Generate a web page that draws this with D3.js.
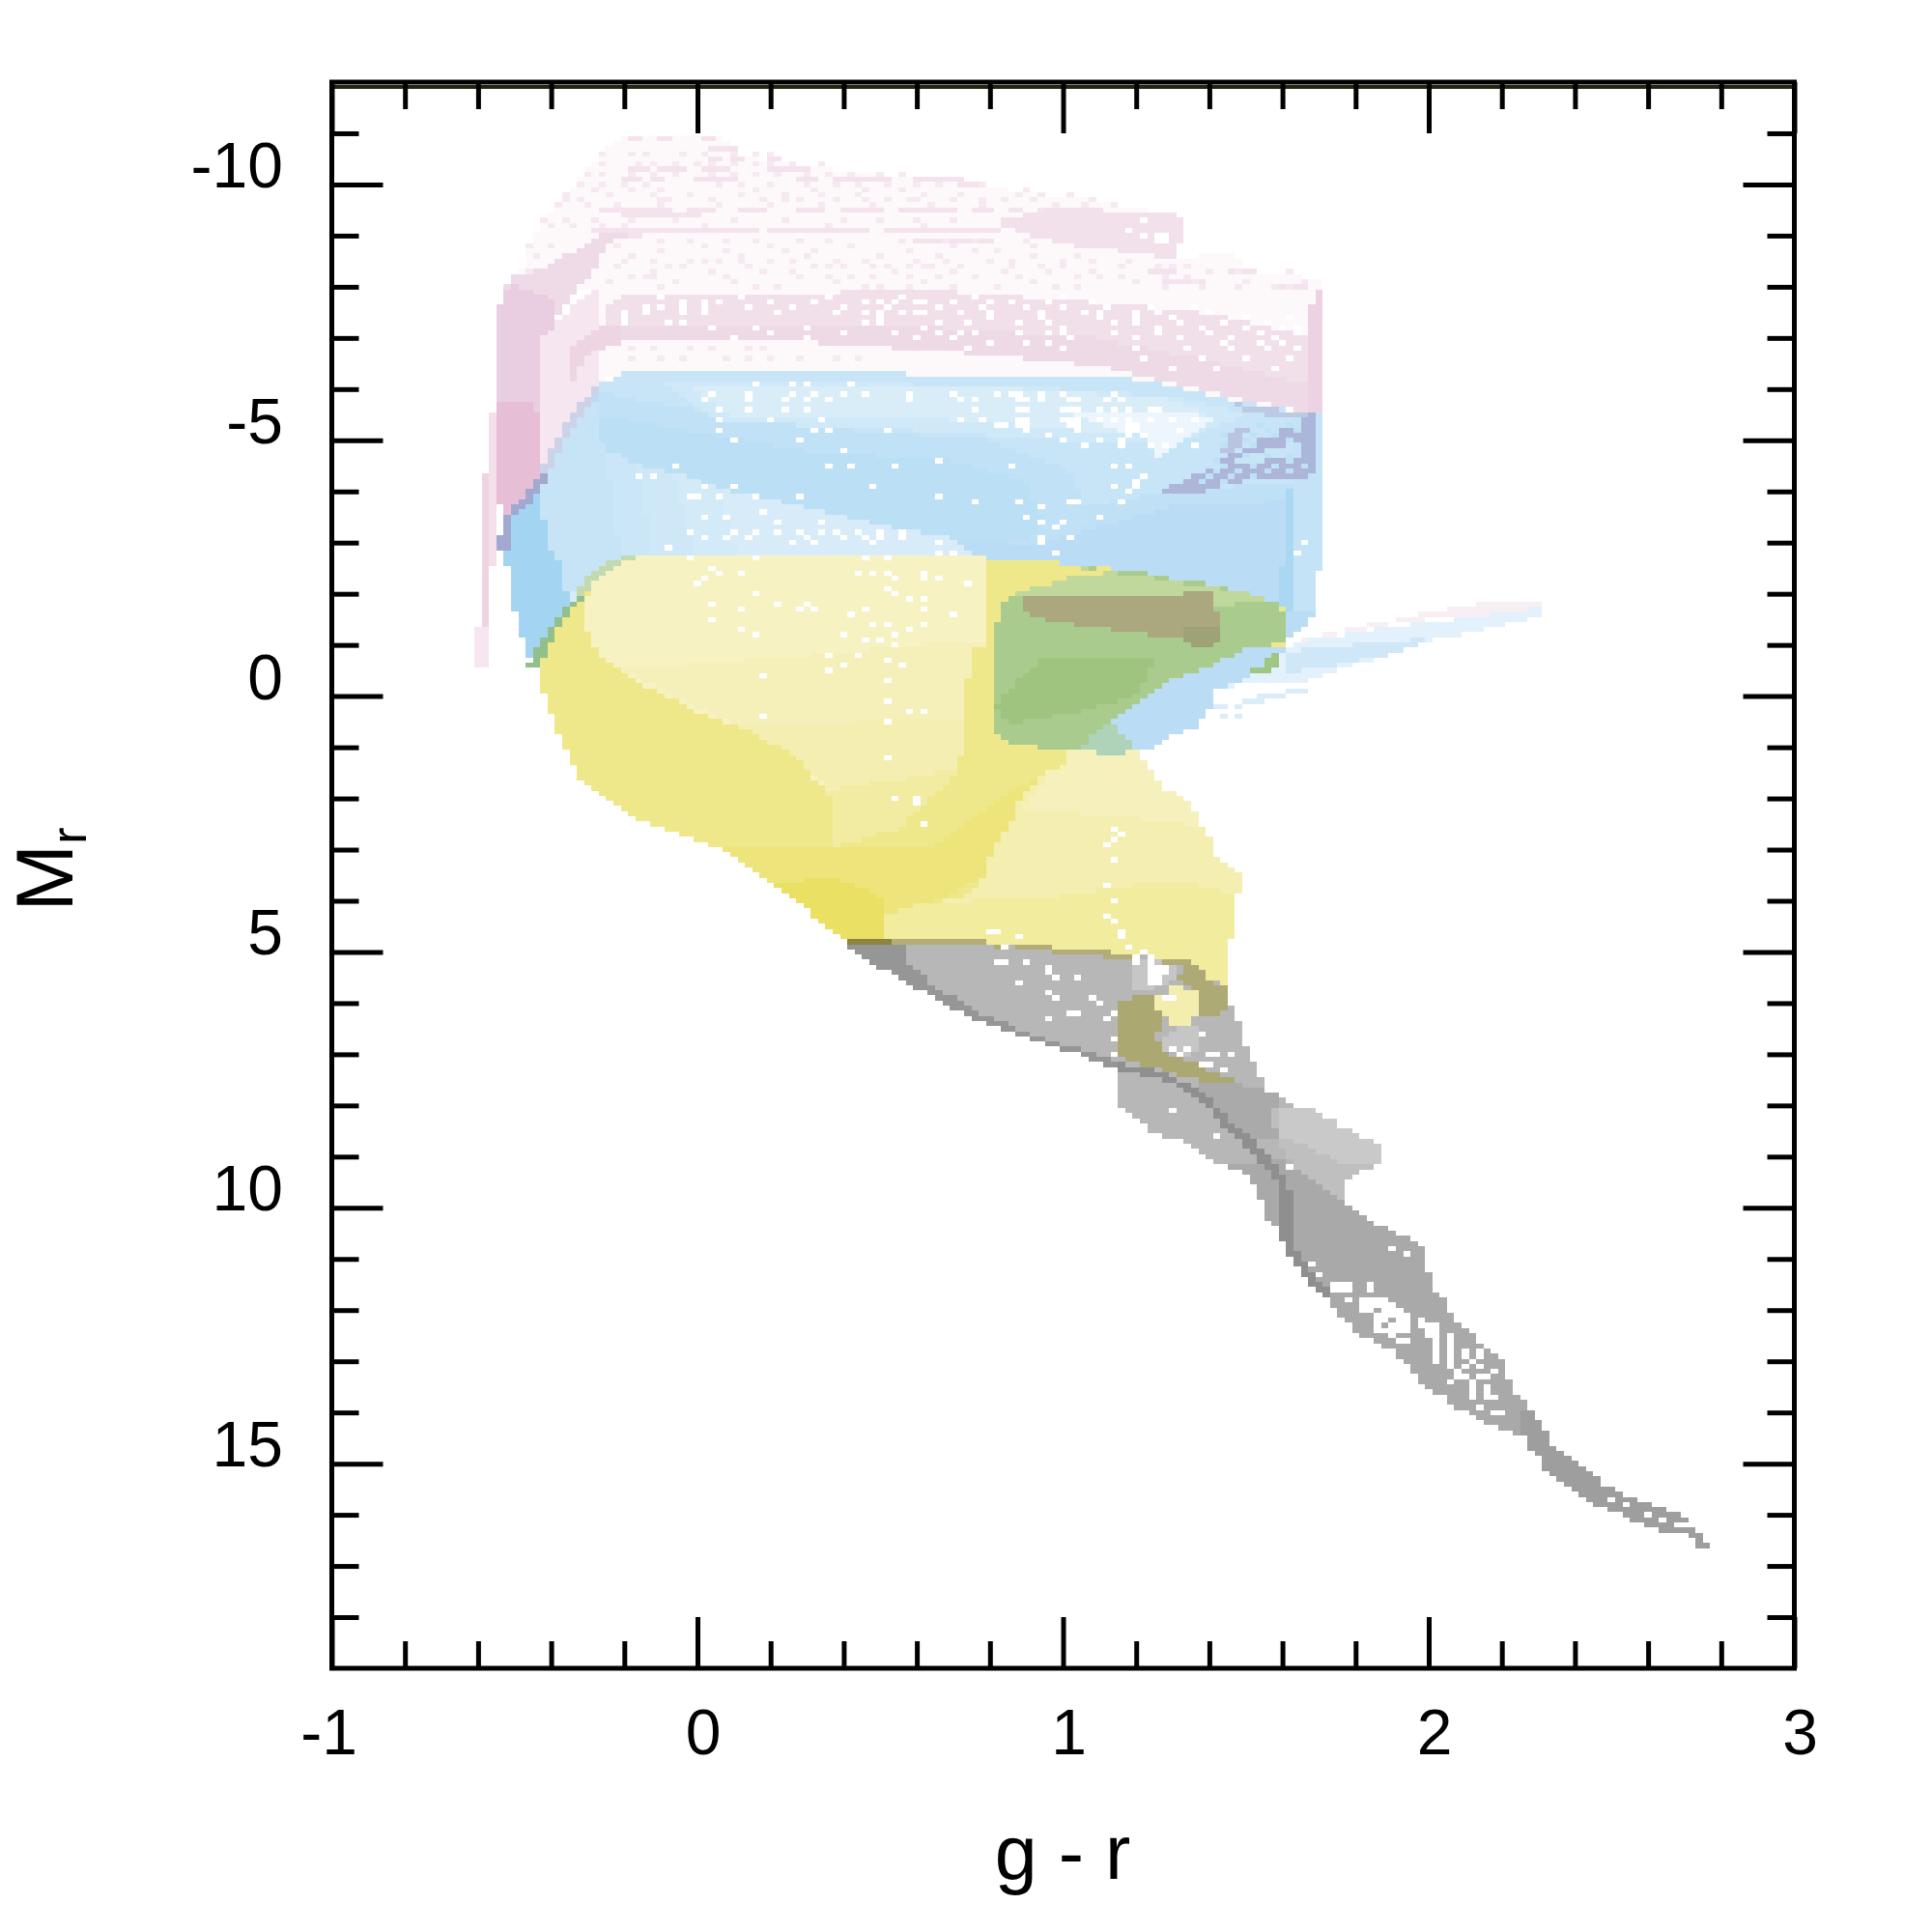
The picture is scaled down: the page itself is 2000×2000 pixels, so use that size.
<!DOCTYPE html>
<html>
<head>
<meta charset="utf-8">
<script src="https://cdn.jsdelivr.net/npm/d3@7"></script>
<style>
  html, body { margin: 0; padding: 0; background: #fff; }
  text { font-family: "Liberation Sans", Arial, sans-serif; fill: #000; }
</style>
</head>
<body>
<svg id="chart" width="2000" height="2000"></svg>
<script>
var xTickMajor = [-1, 0, 1, 2, 3];
var xTickMinor = [-0.8, -0.6, -0.4, -0.2, 0.2, 0.4, 0.6, 0.8, 1.2, 1.4, 1.6, 1.8, 2.2, 2.4, 2.6, 2.8];
var yTickMajor = [-10, -5, 0, 5, 10, 15];
var yTickMinor = [-11, -9, -8, -7, -6, -4, -3, -2, -1, 1, 2, 3, 4, 6, 7, 8, 9, 11, 12, 13, 14, 16, 17, 18];

// region outlines, as [g-r, Mr]
var pinkHull = [[-.19,-10.96],[.065,-10.9],[.118,-10.58],[.188,-10.46],[.4,-10.27],[.69,-10.08],[.937,-9.8],[1.078,-9.7],[1.325,-9.39],[1.329,-8.92],[1.298,-8.54],[1.465,-8.7],[1.51,-8.23],[1.703,-8.19],[1.708,-5.55],[.47,-6.31],[-.2,-6.31],[-.27,-6.12],[-.274,-7.94],[-.512,-8.19],[-.472,-8.45],[-.45,-8.98],[-.41,-9.39],[-.366,-9.67],[-.331,-10.08],[-.27,-10.58]];
var pinkArm = [[-.512,-8.19],[-.41,-8.38],[-.34,-8.7],[-.27,-9.01],[-.164,-9.07],[-.252,-8.82],[-.287,-8.26],[-.349,-7.82],[-.393,-7.25],[-.432,-6.94],[-.551,-7.22],[-.534,-7.82]];
var pinkLeft = [[-.534,-7.82],[-.551,-7.22],[-.551,-3.73],[-.534,-3.73],[-.534,-3.19],[-.512,-3.51],[-.432,-4.33],[-.432,-6.94],[-.393,-7.25],[-.393,-7.75],[-.512,-8.07]];
var pinkLeftDeep = [[-.551,-5.8],[-.551,-3.73],[-.534,-3.73],[-.534,-3.19],[-.512,-3.51],[-.432,-4.33],[-.432,-5.49],[-.472,-5.8]];
var pinkStripA = [[-.573,-5.52],[-.551,-5.52],[-.551,-2.57],[-.573,-2.57]];
var pinkStripB = [[-.591,-4.33],[-.573,-4.33],[-.573,-.65],[-.591,-.65]];
var pinkStripFade = [[-.6,-1.4],[-.56,-1.4],[-.56,-.6],[-.6,-.6]];
var pinkZone = [[-.432,-6.94],[-.393,-7.25],[-.34,-7.63],[-.274,-8],[-.274,-6.12],[-.331,-5.55],[-.432,-4.33]];
var pinkDiag = [[-.349,-6.81],[-.27,-7.25],[-.2,-7.19],[-.2,-6.94],[-.261,-6.78],[-.314,-6.56],[-.331,-6.18],[-.349,-6.18]];
var pinkBand = [[-.252,-7.6],[-.195,-7.88],[.681,-7.91],[.998,-7.75],[1.306,-7.57],[1.44,-7.41],[1.668,-7.06],[1.668,-5.55],[1.49,-5.8],[1.263,-6.18],[1.113,-6.43],[.91,-6.59],[.646,-6.75],[.241,-6.94],[-.217,-6.94],[-.252,-6.81]];
var pinkBandLow = [[-.2,-7.25],[.68,-7.2],[1.087,-7],[1.351,-6.62],[1.668,-6.12],[1.668,-5.55],[1.49,-5.8],[1.263,-6.18],[1.113,-6.43],[.91,-6.59],[.646,-6.75],[.241,-6.94],[-.217,-6.94]];
var pinkColumn = [[1.69,-7.91],[1.708,-7.91],[1.708,-5.55],[1.668,-5.55],[1.668,-7.62],[1.69,-7.62]];
var pinkUpper = [[1.148,-9.48],[1.228,-9.48],[1.325,-9.39],[1.329,-8.92],[1.298,-8.54],[1.192,-8.67],[.998,-8.82],[.805,-9.26],[.99,-9.58]];
var pinkTail = [[1.6,-1],[1.8,-1.35],[1.98,-1.6],[2.13,-1.8],[2.31,-1.8],[2.31,-1.5],[2.1,-1.6],[1.87,-1.37],[1.65,-1.05]];

var blueHull = [[-.2,-6.31],[-.274,-6.06],[-.331,-5.55],[-.432,-4.23],[-.512,-3.51],[-.534,-2.91],[-.512,-2.35],[-.512,-1.97],[-.49,-1.43],[-.472,-.96],[-.45,-.62],[.4,0],[1.192,1.05],[1.228,1.05],[1.289,.8],[1.351,.67],[1.404,.26],[1.408,-.08],[1.55,-.5],[1.6,-.85],[1.615,-1.1],[1.64,-1.2],[1.686,-1.65],[1.686,-2.47],[1.708,-2.47],[1.708,-5.5],[1.49,-5.74],[1.263,-6.12],[1.157,-6.24],[.47,-6.31]];
var blueTail = [[1.408,-.08],[1.51,-.3],[1.659,-.27],[1.791,-.59],[1.897,-.81],[2.012,-1.09],[2.31,-1.56],[2.31,-1.75],[2.1,-1.53],[1.923,-1.37],[1.659,-1.09],[1.633,-1.03],[1.6,-.85]];
var blueTailBand = [[1.615,-.87],[1.712,-.96],[1.906,-1.06],[1.985,-1.15],[1.968,-.96],[1.87,-.77],[1.791,-.68],[1.73,-.58],[1.6,-.46]];
var blueLow = [[-.274,-5.74],[-.331,-5.55],[-.432,-4.23],[-.432,-3.98],[-.41,-3.04],[-.375,-2.53],[-.349,-1.78],[-.331,-1.84],[.76,-2.2],[.76,-2.75],[.681,-3.1],[.461,-3.41],[.241,-3.79],[.065,-4.04],[-.023,-4.3],[-.146,-4.48],[-.247,-4.8],[-.274,-5.11]];
var blueLowStepA = [[-.5,-6],[-.02,-6],[.14,-2],[-.5,-2]];
var blueLowStepB = [[-.5,-6],[-.12,-6],[.02,-2],[-.5,-2]];
var blueLowStepC = [[-.5,-6],[-.2,-6],[-.1,-2],[-.5,-2]];
var blueLowStepD = [[-.5,-6],[-.27,-6],[-.2,-2],[-.5,-2]];
var blueStrip = [[-.432,-3.98],[-.512,-3.51],[-.534,-2.91],[-.512,-2.35],[-.512,-1.97],[-.49,-1.43],[-.472,-.96],[-.45,-.62],[-.331,-1.84],[-.349,-1.78],[-.375,-2.53],[-.41,-3.04]];
var blueLobeOuter = [[-.2,-6.31],[1.157,-6.24],[1.708,-5.5],[1.66,-3.85],[1.3,-3.7],[1.05,-3.2],[.92,-2.95],[.681,-3.1],[.461,-3.41],[.241,-3.79],[.065,-4.04],[-.023,-4.3],[-.146,-4.48],[-.247,-4.8],[-.274,-5.11],[-.274,-6.06]];
var blueLobe = [[-.2,-6.31],[.47,-6.31],[1.157,-6.24],[1.263,-6.12],[1.49,-5.74],[1.708,-5.5],[1.62,-4.15],[1.3,-4.05],[1,-3.6],[.9,-3.05],[.681,-3.1],[.461,-3.41],[.241,-3.79],[.065,-4.04],[-.023,-4.3],[-.146,-4.48],[-.247,-4.8],[-.274,-5.11],[-.274,-6.06]];
var blueLobeDeepOuter = [[-.274,-5.95],[-.05,-5.65],[.35,-5.25],[.8,-5],[1.02,-4.4],[1.08,-3.4],[.9,-3],[.681,-3.1],[.461,-3.41],[.241,-3.79],[.065,-4.04],[-.023,-4.3],[-.146,-4.48],[-.247,-4.8],[-.274,-5.11]];
var blueLobeDeep = [[-.274,-5.5],[-.1,-5.3],[.3,-4.8],[.7,-4.6],[.9,-4.2],[.95,-3.4],[.9,-3],[.681,-3.1],[.461,-3.41],[.241,-3.79],[.065,-4.04],[-.023,-4.3],[-.146,-4.48],[-.247,-4.8],[-.274,-5.11]];
var blueLobeTop = [[-.1,-6.15],[.3,-6.15],[.9,-6.05],[1.3,-5.85],[1.5,-5.5],[1.3,-4.9],[1,-5],[.5,-5.25],[.05,-5.35]];
var blueLobeTopInner = [[-.02,-6.1],[.3,-6.1],[.9,-6],[1.3,-5.8],[1.4,-5.5],[1.15,-5.15],[.6,-5.45],[.1,-5.5]];
var blueRightEdge = [[1.64,-5.5],[1.708,-5.5],[1.708,-2.47],[1.686,-2.47],[1.686,-1.65],[1.62,-1.65],[1.64,-2.5]];
var blueRightDark = [[1.61,-4.1],[1.635,-4.1],[1.635,-2.5],[1.63,-1.7],[1.6,-1.7],[1.6,-2.5],[1.61,-2.5]];
var blueBright = [[1,-5.58],[1.1,-5.6],[1.26,-5.55],[1.39,-5.49],[1.42,-5.4],[1.35,-5.1],[1.26,-4.67],[1.23,-5.1],[1.17,-5.17],[1.07,-5.42]];
var purpleEdgeA = [[-.28,-6.02],[-.26,-6.02],[-.33,-5.4],[-.41,-4.35],[-.435,-4.35],[-.35,-5.5]];
var purpleEdgeB = [[-.435,-4.35],[-.41,-4.3],[-.43,-3.98],[-.5,-3.5],[-.52,-2.85],[-.55,-2.85],[-.53,-3.5],[-.47,-3.98]];
var purpleLow = [[1.27,-4.05],[1.36,-4.3],[1.44,-4.55],[1.6,-4.62],[1.68,-4.75],[1.68,-4.3],[1.55,-4.25],[1.45,-4.15],[1.36,-3.95],[1.27,-3.9]];
var purpleRise = [[1.42,-4.6],[1.6,-5.2],[1.68,-5.3],[1.68,-5],[1.56,-4.85],[1.46,-4.55]];
var purpleColumn = [[1.66,-5.5],[1.7,-5.5],[1.7,-4.35],[1.66,-4.35]];
var purpleStick = [[1.47,-5.3],[1.51,-5.3],[1.47,-4.75],[1.43,-4.75]];
var purpleTop = [[1.47,-5.72],[1.6,-5.6],[1.68,-5.55],[1.68,-5.45],[1.55,-5.5],[1.46,-5.65]];

var yellowHull = [[-.164,-2.75],[.79,-2.75],[.79,-2.65],[1,-2.6],[1.2,-2.44],[1.6,-1.8],[1.61,-1],[1.562,-.96],[1.51,-.99],[1.448,-.74],[1.386,-.52],[1.298,-.3],[1.228,-.02],[1.192,.14],[1.166,.33],[1.131,.55],[1.166,1.05],[1.2,1.05],[1.21,1.14],[1.228,1.36],[1.25,1.49],[1.267,1.74],[1.307,1.93],[1.351,2.15],[1.368,2.37],[1.39,2.62],[1.408,2.94],[1.43,3.25],[1.487,3.5],[1.487,3.88],[1.465,3.94],[1.465,4.79],[1.448,4.82],[1.448,5.77],[1.413,5.6],[1.325,5.2],[.937,4.92],[.409,4.8],[.391,4.73],[.369,4.6],[.312,4.29],[.268,3.94],[.215,3.72],[.153,3.41],[.092,3.09],[.03,2.91],[-.049,2.72],[-.129,2.53],[-.19,2.31],[-.23,2.12],[-.292,1.84],[-.331,1.52],[-.349,1.24],[-.371,.83],[-.393,.52],[-.41,.11],[-.432,-.18],[-.432,-.59],[-.41,-.9],[-.393,-1.18],[-.371,-1.46],[-.349,-1.72],[-.331,-1.84],[-.309,-1.97],[-.291,-2.25],[-.27,-2.38],[-.23,-2.57]];
var yellowLight = [[-.291,-2.19],[-.27,-2.38],[-.23,-2.57],[-.164,-2.75],[.79,-2.75],[.787,-.96],[.748,-.9],[.748,-.4],[.73,-.33],[.73,.92],[.7,1.6],[.55,2.6],[.37,2.95],[.369,2],[.32,1.62],[.268,1.18],[.127,.64],[.004,.33],[-.093,-.02],[-.173,-.3],[-.252,-.68],[-.291,-1.06],[-.314,-1.47],[-.309,-1.78]];
var yellowLightStepA = [[-.2,-.5],[.8,-1.1],[.8,.5],[.6,1.5],[.36,1.5]];
var yellowLightStepB = [[.1,.6],[.76,.4],[.76,1],[.7,2.7],[.36,3],[.36,1.7]];
var yellowLightStepC = [[.3,1.9],[.74,1.4],[.7,2.7],[.36,3]];
var yellowDeep = [[0,2.9],[.4,3],[.65,2.9],[.85,1.9],[1.08,1.1],[1.1,1.3],[1,2],[.85,3.3],[.6,4.2],[.5,4.85],[.38,4.85],[0,3.2]];
var yellowTip = [[.2,3.65],[.38,3.55],[.5,3.9],[.505,4.85],[.39,4.85]];
var yellowLobe = [[1.007,1.08],[1.192,1.05],[1.21,1.14],[1.228,1.36],[1.25,1.49],[1.267,1.74],[1.307,1.93],[1.351,2.15],[1.368,2.37],[1.39,2.62],[1.408,2.94],[1.43,3.25],[1.487,3.5],[1.487,3.88],[1.465,3.94],[1.465,4.79],[1.448,4.82],[1.448,5.77],[1.413,5.6],[1.325,5.2],[.937,4.9],[.505,4.85],[.505,4.29],[.629,4.04],[.726,3.94],[.77,3.72],[.788,3.41],[.809,3.03],[.831,2.75],[.849,2.59],[.871,2.24],[.889,1.93],[.928,1.65],[.968,1.46],[1.007,1.3]];
var yellowLobeTop = [[1,1],[1.3,1],[1.45,2.6],[1.2,2.4],[.9,2.2]];
var yellowLobeLow = [[.5,4.1],[1,3.9],[1.3,3.6],[1.5,3.9],[1.5,5.8],[.5,5]];

var greenMain = [[.981,-2.57],[1.175,-2.44],[1.245,-2.38],[1.307,-2.25],[1.395,-2.19],[1.51,-2],[1.598,-1.81],[1.61,-1.09],[1.562,-.96],[1.51,-.99],[1.448,-.74],[1.386,-.52],[1.298,-.3],[1.228,-.02],[1.192,.14],[1.166,.33],[1.131,.55],[1.166,1.11],[1.087,1.11],[1.052,1.02],[.946,1.02],[.849,.89],[.809,.74],[.809,-1.09],[.831,-1.72],[.849,-1.97],[.91,-2.09],[1.043,-2.35],[1.131,-2.41]];
var greenTop = [[.85,-2],[.98,-2.6],[1.6,-1.9],[1.42,-1.75],[.9,-1.85]];
var greenLow = [[.95,-.8],[1.25,-.7],[1.2,0],[1.05,.3],[.85,.55],[.81,.2]];
var greenTeal = [[1.052,1.02],[1.09,.68],[1.131,.52],[1.166,.74],[1.189,.84],[1.192,1.02],[1.166,1.11],[1.087,1.11]];
var greenPatch = [[1.55,-.77],[1.59,-.84],[1.59,-.52],[1.51,-.4],[1.51,-.55],[1.55,-.58]];
var greenRim = [[-.331,-1.95],[-.31,-1.95],[-.34,-1.7],[-.37,-1.45],[-.39,-1.2],[-.41,-.9],[-.43,-.6],[-.46,-.6],[-.44,-.95],[-.41,-1.25],[-.39,-1.5],[-.36,-1.75]];
var greenRimPale = [[-.309,-2.3],[-.29,-2.45],[-.232,-2.65],[-.17,-2.78],[-.1,-2.8],[-.164,-2.7],[-.23,-2.55],[-.27,-2.34],[-.29,-2.15],[-.32,-1.9],[-.331,-1.95]];
var brownStreak = [[.884,-1.91],[1.069,-1.94],[1.245,-1.97],[1.408,-2.03],[1.426,-1.53],[1.426,-1.03],[1.36,-.9],[1.351,-1.09],[1.245,-1.18],[1.148,-1.28],[1.06,-1.37],[.972,-1.47],[.91,-1.59],[.888,-1.78]];
var brownDark = [[1.34,-1.4],[1.43,-1.4],[1.43,-.95],[1.34,-.95]];

var grayHull = [[.409,4.76],[.77,4.79],[.937,4.89],[1.2,5.08],[1.325,5.17],[1.413,5.58],[1.448,5.61],[1.448,6.02],[1.47,6.15],[1.492,6.65],[1.51,7.03],[1.527,7.21],[1.545,7.5],[1.545,7.72],[1.589,7.72],[1.606,7.9],[1.628,8],[1.686,8.09],[1.712,8.22],[1.747,8.28],[1.747,8.47],[1.782,8.5],[1.809,8.6],[1.849,8.69],[1.871,8.88],[1.871,9.16],[1.809,9.29],[1.782,9.45],[1.769,9.51],[1.769,9.89],[1.787,9.92],[1.809,10.11],[1.849,10.3],[1.906,10.48],[1.95,10.61],[1.99,10.8],[1.99,11.27],[2.012,11.3],[2.012,11.68],[2.03,11.71],[2.051,11.87],[2.051,12.06],[2.069,12.09],[2.091,12.31],[2.108,12.37],[2.13,12.59],[2.17,12.78],[2.21,13],[2.21,13.31],[2.232,13.38],[2.232,13.66],[2.249,13.69],[2.271,13.88],[2.289,14.07],[2.311,14.29],[2.329,14.48],[2.346,14.67],[2.373,14.86],[2.39,14.95],[2.408,15.04],[2.452,15.17],[2.469,15.36],[2.487,15.45],[2.531,15.58],[2.566,15.67],[2.61,15.77],[2.672,15.96],[2.707,16.05],[2.707,16.24],[2.729,16.27],[2.751,16.36],[2.751,16.55],[2.773,16.55],[2.773,16.63],[2.729,16.63],[2.729,16.49],[2.694,16.33],[2.65,16.33],[2.61,16.24],[2.575,16.14],[2.531,16.03],[2.469,15.83],[2.43,15.74],[2.39,15.52],[2.35,15.33],[2.329,15.2],[2.311,15.14],[2.306,14.95],[2.289,14.76],[2.271,14.73],[2.271,14.51],[2.232,14.41],[2.192,14.32],[2.17,14.23],[2.13,14.13],[2.108,14.01],[2.069,13.94],[2.047,13.69],[2.012,13.63],[1.967,13.31],[1.932,13],[1.91,12.94],[1.915,12.75],[1.88,12.75],[1.853,12.62],[1.809,12.53],[1.787,12.31],[1.769,12.18],[1.747,12.03],[1.73,11.93],[1.73,11.74],[1.708,11.74],[1.668,11.43],[1.646,11.18],[1.628,10.99],[1.61,10.74],[1.589,10.64],[1.589,10.36],[1.571,10.36],[1.549,10.04],[1.532,9.73],[1.51,9.45],[1.492,9.32],[1.474,9.23],[1.43,9.16],[1.39,8.98],[1.329,8.72],[1.311,8.66],[1.245,8.54],[1.228,8.41],[1.188,8.22],[1.17,8.16],[1.148,8],[1.148,7.28],[1.087,7.15],[1.043,6.96],[.972,6.87],[.928,6.74],[.889,6.65],[.845,6.55],[.81,6.43],[.77,6.33],[.708,6.15],[.669,5.96],[.629,5.83],[.589,5.67],[.567,5.55],[.549,5.45],[.51,5.36],[.488,5.26],[.448,5.08],[.409,4.86]];
var grayEdge = [[.409,4.8],[.567,4.8],[.567,5.15],[.647,5.67],[.779,6.2],[.946,6.7],[1.14,7.1],[1.148,7.28],[1.087,7.15],[1.043,6.96],[.972,6.87],[.928,6.74],[.889,6.65],[.845,6.55],[.81,6.43],[.77,6.33],[.708,6.15],[.669,5.96],[.629,5.83],[.589,5.67],[.567,5.55],[.549,5.45],[.51,5.36],[.488,5.26],[.448,5.08],[.409,4.86]];
var grayLine = [[1.148,7.18],[1.272,7.34],[1.334,7.56],[1.404,7.91],[1.448,8.25],[1.51,8.6],[1.589,9.23],[1.62,9.6],[1.633,9.98],[1.62,10.6],[1.642,10.86],[1.668,11.18],[1.712,11.49],[1.73,11.68],[1.73,11.75],[1.69,11.6],[1.65,11.2],[1.62,10.95],[1.6,10.65],[1.6,10.1],[1.6,9.6],[1.57,9.35],[1.49,8.75],[1.43,8.35],[1.39,8],[1.32,7.65],[1.26,7.45],[1.148,7.32]];
var grayMid = [[1.36,7.5],[1.6,7.7],[1.6,8.7],[1.5,8.7],[1.4,8]];
var grayArm = [[1.571,8.09],[1.686,8.09],[1.712,8.22],[1.747,8.28],[1.747,8.47],[1.782,8.5],[1.809,8.6],[1.849,8.69],[1.871,8.88],[1.871,9.16],[1.809,9.29],[1.782,9.45],[1.769,9.51],[1.769,9.89],[1.747,9.76],[1.686,9.48],[1.633,9.16],[1.607,8.91],[1.589,8.72]];
var grayArmPale = [[1.58,8.05],[1.69,8.05],[1.88,8.85],[1.88,9.2],[1.75,9.1],[1.6,8.6]];
var grayLower = [[1.45,9.2],[1.6,9],[1.77,9.9],[2.05,10.5],[2.4,12.5],[3,15.5],[3,17],[1.4,12]];
var grayTail = [[2.25,14],[3,14],[3,17],[2.25,17]];
var grayPale = [[1.254,6.8],[1.307,6.49],[1.369,6.4],[1.369,6.96],[1.329,7.03],[1.272,6.9]];
var grayPaleTop = [[1.2,5.1],[1.3,5.2],[1.31,5.5],[1.24,5.75],[1.2,5.7]];
var oliveRing = [[1.148,6.02],[1.188,5.89],[1.245,5.89],[1.263,6.15],[1.272,6.46],[1.254,6.65],[1.272,6.96],[1.334,7.09],[1.404,7.34],[1.466,7.5],[1.466,7.59],[1.408,7.56],[1.325,7.43],[1.263,7.28],[1.228,7.28],[1.166,7.09],[1.148,6.84]];
var oliveArc = [[1.329,5.2],[1.369,5.23],[1.408,5.61],[1.448,5.61],[1.448,5.99],[1.43,6.27],[1.369,6.27],[1.369,5.8],[1.351,5.67],[1.298,5.45],[1.329,5.39]];
var yellowBlob = [[1.29,5.61],[1.329,5.61],[1.351,5.83],[1.369,5.7],[1.369,6.21],[1.347,6.4],[1.325,6.49],[1.29,6.49],[1.29,6.3],[1.272,6.15],[1.25,6.08],[1.25,5.89],[1.29,5.89]];

// single rows of cells: [Mr, from g-r, to g-r]
var pinkRuns = [[-9.5,-.26,-.09],[-9.5,-.02,.03],[-9.5,.11,.17],[-9.5,.29,.33],[-9.5,.39,.5],[-9.5,.55,.7],[-9.5,.75,.79],[-9.5,.85,.88],[-9.5,.93,.97],[-9.5,1.05,1.1],[-9.4,-.2,-.1],[-9.4,-.07,0],[-9.1,-.29,.15],[-9.1,.19,.45],[-9.1,.52,.82],[-9.1,.93,1.05],[-9,-.27,-.17],[-8.9,.6,.8],[-10.3,-.19,-.15],[-10.3,-.1,-.05],[-10.3,.02,.08],[-10.3,.19,.3],[-10.1,-.2,-.16],[-10.1,-.13,-.1],[-10.1,0,.1],[-10.1,.27,.32],[-10.1,.37,.43],[-10.1,.47,.52],[-10.1,.6,.72],[-10,.72,.78],[-10.5,.03,.05],[-10.5,.1,.12],[-10.5,.19,.21],[-10.7,.03,.09],[-10.9,-.19,-.17],[-10.9,-.11,-.09],[-10.9,.01,.03],[-8.3,1.24,1.3],[-8.1,1.28,1.38],[-8.3,1.46,1.52],[-8,1.6,1.66]];
var pinkTopDots = [[-10.6,[-.27,-.19,-.15,-.05,.02,.1,.15,.19]],[-10.4,[-.27,-.17,-.12,-.06,-.01,.04,.1,.16,.2,.26,.34]],[-10.2,[-.31,-.26,-.18,-.12,-.06,.03,.09,.15,.22,.3,.36,.42,.5,.56]],[-10,[-.33,-.26,-.2,-.14,.06,.12,.2,.3,.38,.44,.52,.6,.66,.78]],[-9.9,[-.29,-.18,-.1,.16,.32,.46,.56,.9]],[-9.8,[-.36,-.24,-.12,-.02,.12,.24,.34,.44,.62,.72,.88,.94,1.02]],[-9.7,[-.37,-.33,-.11,-.07,.04,.18,.24,.29,.37,.45,.51,.59,.6,.7,.78,.84,.92,1.08]],[-9.6,[-.38,-.3,-.22,-.1,.06,.2,.34,.48,.64,.78,.98,1.06,1.14]],[-9.3,[-.42,-.36,-.28,-.18,-.06,.1,.24,.4,.5,.6,.7,.86,1,1.1]],[-9.2,[-.4,-.34,-.26,-.2,.02,.36,.62,.96]],[-8.9,[-.11,-.02,.08,.16,.28,.36,.56,.67,.76,.9,1]],[-8.8,[-.46,-.4,-.22,.02,.2,.42,.7,.92]],[-8.7,[-.11,.08,.24,.32,.58,.76,.82]],[-8.6,[-.44,-.34,-.18,.12,.3,.5,.66,.92,1.04]],[-8.5,[-.2,-.13,-.02,.02,.06,.12,.2,.26,.38,.46,.6,.67,.8,.86,1,1.08,1.18]],[-8.4,[-.22,-.08,-.04,.14,.32,.36,.4,.48,.58,.64,.52,.61,.72,.86,.93,1,1.16,1.25,1.3,1.34]],[-8.3,[-.46,-.4,-.12,.04,.18,.26,.54,.7,.84,.96,1.08,1.4,1.48,1.62]],[-8.2,[-.18,-.15,-.13,.07,.28,.36,.42,.48,.58,.66,.75,.88,1.04,1.1,1.16,1.28,1.34]],[-8.1,[-.48,-.34,-.24,-.06,.1,.38,.62,.92,1.2,1.36,1.5,1.66]],[-8,[-.1,.15,.22,.46,.58,.5,.69,.82,.98,1.04,1.28,1.38,1.47,1.58,1.62]],[-6.8,[-.19,-.13,-.03,.03,.14,.18]],[-6.6,[-.18,-.11,-.04,.08,.14,.2,.28,.37,.44]]];

// white gaps in the cell map: [Mr, [g-r, ...]]
var pinkGaps = [[-9.3,[1.22]],[-9.1,[1.18]],[-9,[1.22,1.26,1.28]],[-8.9,[1.26,1.28]],[-7.8,[-.1,.12,.36,.56,.76,1]],[-7.7,[-.04,.02,.06,.2,.32,.46,.6,.5,.54,.62,.7,.8,.86,.96,1.08]],[-7.6,[-.14,-.1,-.04,.02,.14,.26,.4,.52,.66,.78,.9,1,1.12,1.24,1.36]],[-7.5,[-.2,-.14,-.04,.02,.22,.38,.46,.6,.5,.56,.62,.72,.8,.94,1.06,1.1,1.2,1.26,1.4]],[-7.4,[-.2,.5,.8,.94,1.1,1.2,1.3,1.5,1.62]],[-7.3,[-.2,-.08,-.04,.46,.5,.66,.74,.88,.96,1.14,1.2,1.32,1.44,1.56]],[-7.2,[.04,.16,.3,.62,1,1.26,1.38,1.5,1.6,1.64]],[-7.1,[.2,.4,.54,.66,.72,.76,.88,.96,1,1.14,1.26,1.4,1.54,1.64]],[-7,[.1,.3,.6,.7,1.02,1.2,1.32,1.46,1.58]],[-6.9,[.8,.9,.96,1.44,1.54,1.6]],[-6.8,[.74,1,1.2,1.34,1.46,1.56,1.64]],[-6.6,[1.22,1.38,1.5,1.62]],[-6.4,[1.3,1.42,1.58]]];
var blueGaps = [[-6.1,[.16,.26,.3,.42]],[-5.9,[.04,.14,.26,.32,.4,.46,.58,.7,.82,.86,.88,.94,1,1.14]],[-5.8,[.02,.14,.24,.3,.36,.58,.72,.76,.88,.9,.94,1.02,1.04,1.12,1.16]],[-5.6,[.06,.14,.24,.3,.76,.88,.9,1,1.02,1.04,1.1,1.14,1.18,1.24,1.26]],[-5.4,[.06,.2,.34,.72,.78,.88,.9,1,1.02,1.04,1.1,1.14,1.18,1.24,1.3,1.36]],[-5.3,[.82,.84,.88,.9,1.02,1.04,1.18,1.2]],[-5.2,[.06,.32,.36,.52,.9,1.04,1.18,1.2,1.32]],[-5.1,[.96,1.18,1.22]],[-5,[.1,.28,1,1.1,1.16]],[-4.9,[1.06,1.16,1.24,1.28,1.36]],[-4.8,[.4]],[-4.6,[.66]],[-4.5,[-.06,.36,.42,.54,.86,1.14,1.18]],[-4.3,[-.16,-.12,1.22]],[-4.2,[1.2]],[-4.1,[.02,.1,.48,1.14,1.2]],[-4,[1.18]],[-3.9,[-.02,0,.06,.16,.28,.66]],[-3.8,[.76,.88,1.02,1.04,1.16]],[-3.7,[.94]],[-3.6,[.18]],[-3.5,[.02,.08,.9,1.1]],[-3.4,[.22,.34,.94,1]],[-3.3,[.98]],[-3.2,[-.02,.1,.16,.22,.28,.34,.38,.44,.5,.56]],[-3.1,[.02,.08,.14,.3,.4,.46,.5,.56,.94,1.02]],[-3,[.26,.32,.48,.66,.94,1.66]],[-2.9,[-.08]],[-2.8,[.66,.7,.98,1.64]]];
var purpleGaps = [[-5.3,[1.54,1.62]],[-5.2,[1.56,1.64]],[-5.1,[1.44,1.52,1.58]],[-5,[1.5,1.62]],[-4.9,[1.44,1.52]],[-4.7,[1.5,1.56,1.62]],[-4.6,[1.42,1.62]],[-4.5,[1.44,1.52,1.58,1.66]],[-4.4,[1.42,1.48,1.56,1.62]],[-4.3,[1.4,1.46,1.52]],[-4.2,[1.38,1.44]]];
var yellowGaps = [[-2.7,[-.02,.16,.46,.52]],[-2.5,[.04]],[-2.4,[.06,.12,.44,.48,.52,.62]],[-2.3,[.62,.02,.54,.66]],[-2.2,[0,.74]],[-2.1,[.52]],[-2,[.54,.16]],[-1.9,[.58,.62]],[-1.8,[.04,.22,.3]],[-1.7,[.12,.28,.32,.46,.62]],[-1.6,[.42,.7]],[-1.5,[.04]],[-1.4,[.48,.52,.62]],[-1.3,[.12,.58]],[-1.2,[.16,.4,.54]],[-1.1,[.46,.5]],[-1,[.54]],[-.8,[.36,.44]],[-.7,[.52]],[-.6,[.4,.56]],[-.5,[.36]],[-.4,[.18]],[-.3,[.52]],[.1,[.52]],[.3,[.58,.62]],[.4,[.18]],[.5,[.52]],[1.2,[.52]],[2,[.54,.6]],[2.1,[.6]],[2.5,[.62]],[2.6,[1.14]],[2.7,[1.16]],[2.8,[1.14]],[2.9,[1.12]],[3.2,[1.14]],[3.7,[1.12]],[4,[1.14]],[4.3,[1.12]],[4.4,[1.14]],[4.6,[1.16,.8,.82]],[4.7,[1.16,.88]],[4.9,[1.18]],[5,[1.22]],[5.1,[1.24]]];
var grayGaps = [[4.9,[.84]],[5.1,[1.2]],[5.2,[.82,.84,.9,1.2,1.24]],[5.3,[.96,1.24,1.26,1.28]],[5.4,[.96,1.24,1.26,1.28]],[5.5,[.98,1.04,1.24,1.26]],[5.6,[.88,1.24,1.26]],[5.8,[.96]],[5.9,[1.28,1.3,.98,1.08]],[6,[1.1]],[6.2,[1.02,1.04,1.14]],[6.3,[.96,1.12]],[6.6,[1.38]],[6.7,[1.14]],[6.9,[1.3,1.34]],[7,[1.14,1.32,1.4,1.42,1.46]],[7.2,[1.38,1.4]],[7.3,[1.44]],[8.1,[1.3]],[8.6,[1.42]],[9.2,[1.62]],[10.8,[1.9]],[10.9,[1.94]],[11.1,[1.68]],[11.3,[1.7]],[11.5,[1.74,1.76,1.78,1.84]],[11.6,[1.74,1.76,1.78,1.84]],[11.8,[1.78,1.82,1.84,1.86,1.88]],[11.9,[1.82,1.84,1.86,1.88,1.9]],[12,[1.82,1.84,1.88,1.9,1.92]],[12.1,[1.86,1.88,1.9,1.92,1.94]],[12.2,[1.86,1.88,1.92,1.94,1.98]],[12.3,[1.86,1.9,1.92,1.94,1.98,2,2.02]],[12.4,[1.86,1.88,1.9,1.92,1.94,2,2.02]],[12.5,[1.9,2,2.02,2.06]],[12.6,[1.92,1.94,2.02,2.06]],[12.7,[2.02,2.06]],[12.8,[2.02,2.06,2.1,2.14]],[12.9,[2.02,2.06,2.1,2.14]],[13,[2.02,2.06,2.12]],[13.1,[2.06,2.1,2.14]],[13.2,[2.08,2.18]],[13.3,[2.08,2.1,2.14,2.16]],[13.4,[2.06,2.12]],[13.5,[2.12,2.16]],[13.6,[2.12,2.16]],[13.7,[2.12,2.16,2.18]],[13.9,[2.14]],[14,[2.18,2.2]],[15.7,[2.5]],[15.8,[2.54]],[16,[2.6]],[16.1,[2.64]],[16.2,[2.68,2.7]]];

var blueFringe = [[-.1,1.61,1.668],[0,1.549,1.606],[.1,1.492,1.545],[.2,1.408,1.448],[.2,1.47,1.487],[.4,1.43,1.448],[.4,1.47,1.487]];
var oliveRuns = [[4.9,.81,.83],[4.9,.87,.91],[4.9,.93,.95],[5,.97,1.11],[5.1,1.13,1.15],[5.1,1.17,1.19],[5.2,1.27,1.33]];
var oliveTop = [[4.8,.53,.77]];
var oliveDark = [[4.8,.42,.52]];

var x = d3.scaleLinear().domain([-1, 3]).range([343.5, 1857.5]);
var y = d3.scaleLinear().domain([-12, 19]).range([85, 1727]);
var cellW = 0.02, cellH = 0.1;

var svg = d3.select("#chart");
var cells = svg.append("g").attr("shape-rendering", "crispEdges");

function runPath(M, g0, g1) {
  var left = Math.round(x(g0 - cellW / 2)), right = Math.round(x(g1 + cellW / 2));
  var top = Math.round(y(M - cellH / 2)), bottom = Math.round(y(M + cellH / 2));
  return "M" + left + "," + top + "H" + right + "V" + bottom + "H" + left + "Z";
}

// fill the bins whose centre falls inside a region
function regionPath(poly, clip) {
  var gs = d3.extent(poly, function(d) { return d[0]; }),
      ms = d3.extent(poly, function(d) { return d[1]; }),
      d = "";
  for (var j = Math.ceil(ms[0] / cellH); j <= Math.floor(ms[1] / cellH); j++) {
    var M = j * cellH, start = null, last = null;
    for (var i = Math.ceil(gs[0] / cellW); i <= Math.floor(gs[1] / cellW) + 1; i++) {
      var g = i * cellW;
      var inside = d3.polygonContains(poly, [g, M]) && (!clip || d3.polygonContains(clip, [g, M]));
      if (inside) {
        if (start === null) start = g;
        last = g;
      } else if (start !== null) {
        d += runPath(M, start, last);
        start = null;
      }
    }
  }
  return d;
}

function snap(v, step) { return Math.round(v / step) * step; }

function region(poly, colour, clip) {
  cells.append("path").attr("d", regionPath(poly, clip)).attr("fill", colour);
}
function runs(list, colour) {
  cells.append("path").attr("fill", colour)
    .attr("d", list.map(function(r) { return runPath(r[0], snap(r[1], cellW), snap(r[2], cellW)); }).join(""));
}
function dots(rows, colour) {
  var d = "";
  rows.forEach(function(r) {
    r[1].forEach(function(g) { d += runPath(r[0], snap(g, cellW), snap(g, cellW)); });
  });
  cells.append("path").attr("fill", colour).attr("d", d);
}

// pink
region(pinkHull, "#fdf9fb");
region(pinkTail, "#f8eff5");
runs(pinkRuns, "#f4e3ed");
dots(pinkTopDots, "#f6e9f1");
region(pinkUpper, "#f2e0eb");
region(pinkStripB, "#eed4e3");
region(pinkStripFade, "#f5e6ef");
region(pinkStripA, "#f3e0ea");
region(pinkZone, "#f6e6f0");
region(pinkArm, "#efdae7");
region(pinkLeft, "#e9cde0");
region(pinkLeftDeep, "#e6bfd6");
region(pinkBand, "#f1e0ea");
region(pinkBandLow, "#eed9e6");
region(pinkDiag, "#eed5e4");
region(pinkColumn, "#ecd2e2");
dots(pinkGaps, "#ffffff");

// blue
region(blueTail, "#e2f1fb");
region(blueTailBand, "#cfe7f7");
runs(blueFringe, "#dcedfa");
region(blueHull, "#badcf5");
region(blueLow, "#d7ebf9");
region(blueLowStepA, "#d3eaf8", blueLow);
region(blueLowStepB, "#cfe8f8", blueLow);
region(blueLowStepC, "#cbe6f7", blueLow);
region(blueLowStepD, "#c7e4f7", blueLow);
region(blueStrip, "#a3d5f2");
region(blueLobeOuter, "#c0e0f6", blueHull);
region(blueLobe, "#c8e5f7");
region(blueLobeDeepOuter, "#c1e2f6");
region(blueLobeDeep, "#bbdff5");
region(blueLobeTop, "#d0e9f8");
region(blueLobeTopInner, "#d9edf9");
region(blueBright, "#edf6fc");
region(blueRightEdge, "#c4e3f6");
region(blueRightDark, "#aad8f3");
region(purpleEdgeA, "#ccd2e7");
region(purpleEdgeB, "#a1a9d1");
region(purpleLow, "#adb6d9");
region(purpleRise, "#adb6d9");
region(purpleColumn, "#aab6da");
region(purpleStick, "#b8c4e0");
region(purpleTop, "#bcc9e3");
dots(purpleGaps, "#bfe1f6");
dots(blueGaps, "#ffffff");

// yellow
region(yellowHull, "#efe88a");
region(yellowLight, "#f6f2c1");
region(yellowLightStepA, "#f5f0b9", yellowLight);
region(yellowLightStepB, "#f4efb0", yellowLight);
region(yellowLightStepC, "#f2eca2", yellowLight);
region(yellowDeep, "#ede57c", yellowHull);
region(yellowTip, "#e9e064", yellowHull);
region(yellowLobe, "#f4efb0");
region(yellowLobeTop, "#f6f1bc", yellowLobe);
region(yellowLobeLow, "#f2ec9f", yellowLobe);
region(greenRim, "#92bf8b");
region(greenRimPale, "#c3d9b0");
dots(yellowGaps, "#ffffff");

// overlap of yellow and blue
region(greenMain, "#a9cc8e");
region(greenTop, "#c0d89b", greenMain);
region(greenLow, "#9ec480", greenMain);
region(greenTeal, "#aed3b8");
region(greenPatch, "#a0c684");
region(brownStreak, "#aba77f");
region(brownDark, "#9ea276", brownStreak);

// gray
region(grayHull, "#b7b7b7");
region(grayMid, "#aaaaaa", grayHull);
region(grayLower, "#a9a9a9", grayHull);
region(grayTail, "#9e9e9e", grayHull);
region(grayArm, "#bfbfbf");
region(grayArmPale, "#c9c9c9", grayArm);
region(grayEdge, "#969696");
region(grayLine, "#8f8f8f");
region(grayPale, "#c6c6c6");
region(grayPaleTop, "#c6c6c6", grayHull);
region(oliveArc, "#aeaa76");
region(oliveRing, "#aca872");
region(yellowBlob, "#f4eeae");
runs(oliveRuns, "#b2ac76");
runs(oliveTop, "#b4ad78");
runs(oliveDark, "#8c8540");
dots(grayGaps, "#ffffff");

// frame and ticks
svg.append("rect").attr("x", 343).attr("y", 88).attr("width", 1515).attr("height", 4).attr("fill", "#20260f");
svg.append("rect")
  .attr("x", x.range()[0]).attr("y", y.range()[0])
  .attr("width", x.range()[1] - x.range()[0]).attr("height", y.range()[1] - y.range()[0])
  .attr("fill", "none").attr("stroke", "#000").attr("stroke-width", 5);

function ticks(axisFn, scale, values, size, tx, ty) {
  var a = svg.append("g").attr("transform", "translate(" + tx + "," + ty + ")")
    .call(axisFn(scale).tickValues(values).tickSize(size).tickFormat(""));
  a.select(".domain").remove();
  a.selectAll("line").attr("stroke", "#000").attr("stroke-width", 5);
  a.selectAll("text").remove();
}
var left = x.range()[0], right = x.range()[1], top_ = y.range()[0], bottom = y.range()[1];
ticks(d3.axisTop, x, xTickMajor, 53, 0, bottom);
ticks(d3.axisTop, x, xTickMinor, 28, 0, bottom);
ticks(d3.axisBottom, x, xTickMajor, 53, 0, top_);
ticks(d3.axisBottom, x, xTickMinor, 28, 0, top_);
ticks(d3.axisRight, y, yTickMajor, 53, left, 0);
ticks(d3.axisRight, y, yTickMinor, 28, left, 0);
ticks(d3.axisLeft, y, yTickMajor, 53, right, 0);
ticks(d3.axisLeft, y, yTickMinor, 28, right, 0);

svg.append("g").selectAll("text").data(xTickMajor).enter().append("text")
  .attr("x", function(d) { return d < 0 ? x(d) - 3 : x(d) + 6; })
  .attr("y", 1816)
  .attr("text-anchor", "middle")
  .attr("font-size", 66)
  .text(function(d) { return d; });

svg.append("g").selectAll("text").data(yTickMajor).enter().append("text")
  .attr("x", 293)
  .attr("y", function(d) { return y(d) + 3; })
  .attr("text-anchor", "end")
  .attr("font-size", 66)
  .text(function(d) { return d; });

svg.append("text")
  .attr("x", 1100).attr("y", 1945)
  .attr("text-anchor", "middle")
  .attr("font-size", 79)
  .text("g - r");

var yTitle = svg.append("text")
  .attr("transform", "translate(75,900) rotate(-90)")
  .attr("text-anchor", "middle")
  .attr("font-size", 84);
yTitle.append("tspan").text("M");
yTitle.append("tspan").attr("font-size", 52).attr("dy", 14).text("r");
</script>
</body>
</html>
